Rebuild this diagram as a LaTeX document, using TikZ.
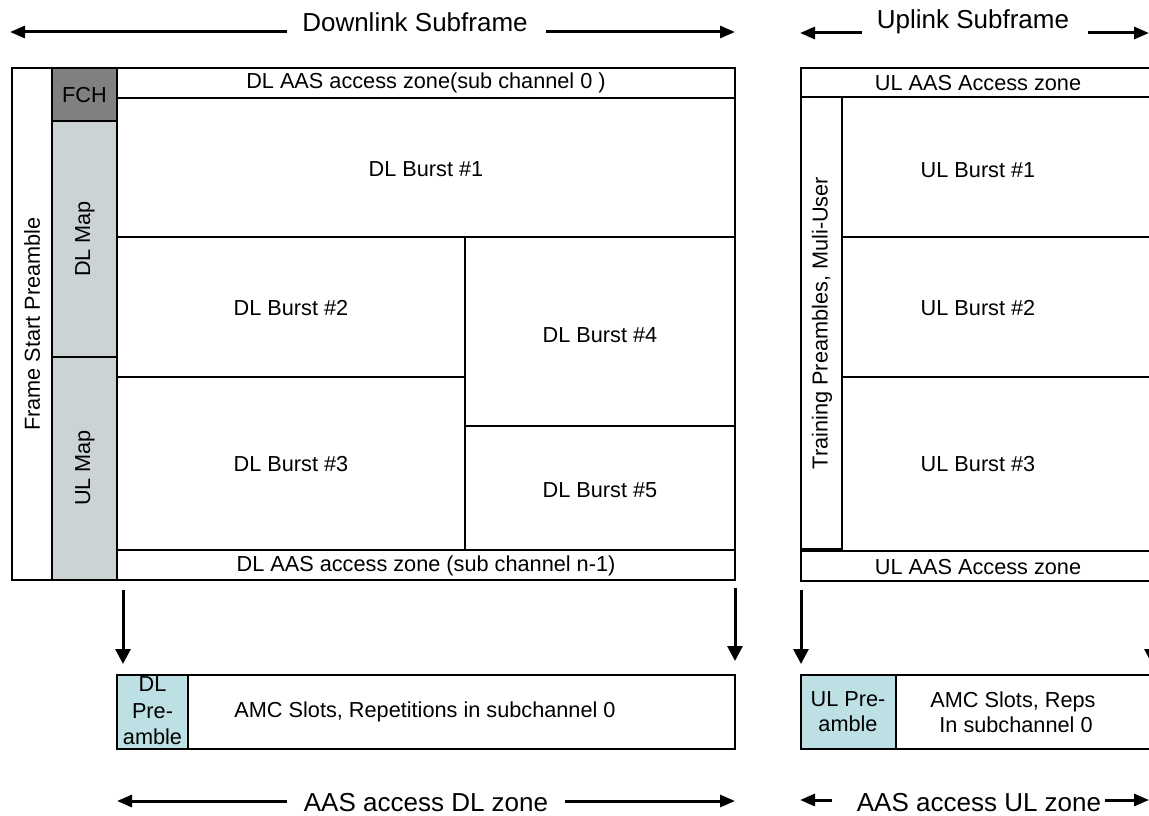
\documentclass[tikz,border=0pt]{standalone}
\usepackage{fontspec}
\setmainfont{Liberation Sans}
\usepackage{xcolor}
\usepackage{tikz}
\usetikzlibrary{arrows.meta}

\definecolor{fchgray}{RGB}{128,128,128}
\definecolor{mapgray}{RGB}{203,211,213}
\definecolor{preblue}{RGB}{188,224,227}

\begin{document}
\begin{tikzpicture}[x=1pt,y=-1pt,
	lbl/.style={font=\fontsize{21.7}{26}\selectfont,inner sep=0pt,align=center},
	head/.style={font=\fontsize{26}{30}\selectfont,inner sep=0pt},
	span/.style={line width=3pt,-{Triangle[length=15pt,width=12pt]}},
	drop/.style={line width=3pt,-{Triangle[length=15pt,width=15pt]}},
	frame/.style={line width=2pt},
	cell/.style={line width=1.4pt}]
	\useasboundingbox (0,0) rectangle (1149,816);

	% subframe headings
	\node[head] (dlhead) at (415,22) {Downlink Subframe};
	\draw[span] (287,32) -- (10,32);
	\draw[span] (546,32) -- (735,32);
	\node[head] (ulhead) at (973,22) {Uplink Subframe};
	\draw[span] (862,33) -- (800,33);
	\draw[span] (1088,33) -- (1149,33);

	% downlink subframe
	\draw[cell,fill=fchgray] (52,68) rectangle (117,121);
	\draw[cell,fill=mapgray] (52,121) rectangle (117,357);
	\draw[cell,fill=mapgray] (52,357) rectangle (117,580);
	\draw[cell] (117,98) -- (735,98);
	\draw[cell] (117,237) -- (735,237);
	\draw[cell] (117,377) -- (465,377);
	\draw[cell] (465,426) -- (735,426);
	\draw[cell] (465,237) -- (465,550);
	\draw[cell] (117,550) -- (735,550);
	\draw[frame] (12,68) rectangle (735,580);
	\draw[frame] (52,68) -- (52,580);

	\node[lbl,rotate=90] (fsp) at (32,324) {Frame Start Preamble};
	\node[lbl] (fch) at (84.5,95) {FCH};
	\node[lbl,rotate=90] (dlmap) at (85,239) {DL Map};
	\node[lbl,rotate=90] (ulmap) at (85,468) {UL Map};
	\node[lbl] (dlzone0) at (426,83) {DL AAS access zone(sub channel 0 )};
	\node[lbl] (dlb1) at (426,169) {DL Burst \#1};
	\node[lbl] (dlb2) at (291,308) {DL Burst \#2};
	\node[lbl] (dlb3) at (291,464) {DL Burst \#3};
	\node[lbl] (dlb4) at (600,335) {DL Burst \#4};
	\node[lbl] (dlb5) at (600,490) {DL Burst \#5};
	\node[lbl] (dlzonen) at (426,566) {DL AAS access zone (sub channel n-1)};

	% uplink subframe
	\draw[cell] (801,97) -- (1160,97);
	\draw[cell] (842,97) -- (842,550);
	\draw[cell] (842,237) -- (1160,237);
	\draw[cell] (842,377) -- (1160,377);
	\draw[cell] (801,549) -- (842,549);
	\draw[cell] (801,551) -- (1160,551);
	\draw[frame] (1160,68) -- (801,68) -- (801,581) -- (1160,581);

	\node[lbl] (ulzone0) at (978,83) {UL AAS Access zone};
	\node[lbl,rotate=90] (train) at (822,323) {Training Preambles, Muli-User};
	\node[lbl] (ulb1) at (978,170) {UL Burst \#1};
	\node[lbl] (ulb2) at (978,308) {UL Burst \#2};
	\node[lbl] (ulb3) at (978,464) {UL Burst \#3};
	\node[lbl] (ulzonen) at (978,567) {UL AAS Access zone};

	% mapping arrows
	\draw[drop] (123,590) -- (123,664);
	\draw[drop] (735,588) -- (735,661);
	\draw[drop] (801,590) -- (801,664);
	\draw[drop] (1152,590) -- (1152,664);

	% aas access zones
	\draw[frame,fill=preblue] (117,675) rectangle (188,749);
	\draw[frame] (188,675) rectangle (735,749);
	\node[lbl,font=\fontsize{21.7}{26.5}\selectfont] (dlpre) at (152.5,711) {DL\\Pre-\\amble};
	\node[lbl] (dlamc) at (425,712) {AMC Slots, Repetitions in subchannel 0};

	\draw[frame,fill=preblue] (801,675) rectangle (896,749);
	\draw[frame] (1160,675) -- (896,675) -- (896,749) -- (1160,749);
	\node[lbl,font=\fontsize{21.7}{25}\selectfont] (ulpre) at (848,712) {UL Pre-\\amble};
	\node[lbl,font=\fontsize{21.7}{25}\selectfont] (ulamc) at (1013,712) {AMC Slots, Reps\\\hspace{6pt}In subchannel 0};

	\node[head] (dlaas) at (426,803) {AAS access DL zone};
	\draw[span] (287,801) -- (117,801);
	\draw[span] (565,801) -- (735,801);
	\node[head] (ulaas) at (979,803) {AAS access UL zone};
	\draw[span] (832,800) -- (800,800);
	\draw[span] (1105,800) -- (1149,800);
\end{tikzpicture}
\end{document}
